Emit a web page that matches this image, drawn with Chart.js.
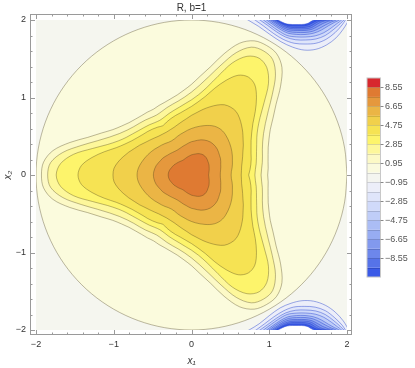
<!DOCTYPE html>
<html>
<head>
<meta charset="utf-8">
<script src="https://cdn.jsdelivr.net/npm/chart.js@4.4.1/dist/chart.umd.min.js"></script>
<style>
  html, body { margin: 0; padding: 0; background: #fff; }
</style>
</head>
<body>
<canvas id="chart" width="415" height="368"></canvas>
<script>
// contour levels inside the disc, and the colour of the band just above each one
var warmLevels = [0, 0.95, 1.9, 2.85, 3.8, 4.75, 5.7, 6.65, 7.6];
var warmFills = ['#fbfbdd', '#fcf9c6', '#fdf79b', '#fdf46b', '#f6e353', '#f1d04b', '#ebb545', '#e5983d', '#df7a32'];

// radius of each contour, going round from the +x1 axis
// (circle every 10 degrees, the others every 5 degrees)
var r0 = [2, 2, 2, 2, 2, 2, 2, 2, 2, 2, 2, 2, 2, 2, 2, 2, 2, 2,
          2, 2, 2, 2, 2, 2, 2, 2, 2, 2, 2, 2, 2, 2, 2, 2, 2, 2];
var r095 = [0.98, 0.99, 1.00, 1.02, 1.05, 1.10, 1.17, 1.28, 1.42, 1.62, 1.81, 1.91, 1.93,
            1.91, 1.81, 1.62, 1.42, 1.28, 1.17, 1.10, 1.05, 1.02, 1.00, 0.99, 0.98,
            0.99, 1.00, 1.02, 1.05, 1.10, 1.17, 1.28, 1.42, 1.62, 1.81, 1.91, 1.93,
            1.91, 1.81, 1.62, 1.42, 1.28, 1.17, 1.10, 1.05, 1.02, 1.00, 0.99, 0.98,
            0.99, 1.00, 1.02, 1.05, 1.10, 1.17, 1.28, 1.42, 1.62, 1.81, 1.91, 1.93,
            1.91, 1.81, 1.62, 1.42, 1.28, 1.17, 1.10, 1.05, 1.02, 1.00, 0.99];
var r19 = [0.895, 0.905, 0.925, 0.945, 0.97, 1.01, 1.07, 1.16, 1.29, 1.47, 1.68, 1.82, 1.85,
           1.82, 1.68, 1.47, 1.29, 1.16, 1.07, 1.01, 0.97, 0.945, 0.925, 0.905, 0.895,
           0.905, 0.925, 0.945, 0.97, 1.01, 1.07, 1.16, 1.29, 1.47, 1.68, 1.82, 1.85,
           1.82, 1.68, 1.47, 1.29, 1.16, 1.07, 1.01, 0.97, 0.945, 0.925, 0.905, 0.895,
           0.905, 0.925, 0.945, 0.97, 1.01, 1.07, 1.16, 1.29, 1.47, 1.68, 1.82, 1.85,
           1.82, 1.68, 1.47, 1.29, 1.16, 1.07, 1.01, 0.97, 0.945, 0.925, 0.905];
var r285 = [0.815, 0.825, 0.845, 0.865, 0.89, 0.925, 0.97, 1.04, 1.15, 1.32, 1.54, 1.69, 1.74,
            1.69, 1.54, 1.32, 1.15, 1.04, 0.97, 0.925, 0.89, 0.865, 0.845, 0.825, 0.815,
            0.825, 0.845, 0.865, 0.89, 0.925, 0.97, 1.04, 1.15, 1.32, 1.54, 1.69, 1.74,
            1.69, 1.54, 1.32, 1.15, 1.04, 0.97, 0.925, 0.89, 0.865, 0.845, 0.825, 0.815,
            0.825, 0.845, 0.865, 0.89, 0.925, 0.97, 1.04, 1.15, 1.32, 1.54, 1.69, 1.74,
            1.69, 1.54, 1.32, 1.15, 1.04, 0.97, 0.925, 0.89, 0.865, 0.845, 0.825];
var r38 = [0.735, 0.755, 0.775, 0.795, 0.815, 0.845, 0.885, 0.945, 1.03, 1.16, 1.30, 1.42, 1.46,
           1.42, 1.30, 1.16, 1.03, 0.945, 0.885, 0.845, 0.815, 0.795, 0.775, 0.755, 0.735,
           0.755, 0.775, 0.795, 0.815, 0.845, 0.885, 0.945, 1.03, 1.16, 1.30, 1.42, 1.46,
           1.42, 1.30, 1.16, 1.03, 0.945, 0.885, 0.845, 0.815, 0.795, 0.775, 0.755, 0.735,
           0.755, 0.775, 0.795, 0.815, 0.845, 0.885, 0.945, 1.03, 1.16, 1.30, 1.42, 1.46,
           1.42, 1.30, 1.16, 1.03, 0.945, 0.885, 0.845, 0.815, 0.795, 0.775, 0.755];
var r475 = [0.64, 0.645, 0.655, 0.675, 0.70, 0.73, 0.77, 0.81, 0.86, 0.91, 0.96, 1.00, 1.01,
            1.00, 0.96, 0.91, 0.86, 0.81, 0.77, 0.73, 0.70, 0.675, 0.655, 0.645, 0.64,
            0.645, 0.655, 0.675, 0.70, 0.73, 0.77, 0.81, 0.86, 0.91, 0.96, 1.00, 1.01,
            1.00, 0.96, 0.91, 0.86, 0.81, 0.77, 0.73, 0.70, 0.675, 0.655, 0.645, 0.64,
            0.645, 0.655, 0.675, 0.70, 0.73, 0.77, 0.81, 0.86, 0.91, 0.96, 1.00, 1.01,
            1.00, 0.96, 0.91, 0.86, 0.81, 0.77, 0.73, 0.70, 0.675, 0.655, 0.645];
var r57 = [0.51, 0.515, 0.53, 0.545, 0.56, 0.58, 0.60, 0.62, 0.64, 0.66, 0.68, 0.695, 0.70,
           0.695, 0.68, 0.66, 0.64, 0.62, 0.60, 0.58, 0.56, 0.545, 0.53, 0.515, 0.51,
           0.515, 0.53, 0.545, 0.56, 0.58, 0.60, 0.62, 0.64, 0.66, 0.68, 0.695, 0.70,
           0.695, 0.68, 0.66, 0.64, 0.62, 0.60, 0.58, 0.56, 0.545, 0.53, 0.515, 0.51,
           0.515, 0.53, 0.545, 0.56, 0.58, 0.60, 0.62, 0.64, 0.66, 0.68, 0.695, 0.70,
           0.695, 0.68, 0.66, 0.64, 0.62, 0.60, 0.58, 0.56, 0.545, 0.53, 0.515];
var r665 = [0.37, 0.373, 0.38, 0.39, 0.40, 0.415, 0.43, 0.44, 0.455, 0.47, 0.48, 0.487, 0.49,
            0.487, 0.48, 0.47, 0.455, 0.44, 0.43, 0.415, 0.40, 0.39, 0.38, 0.373, 0.37,
            0.373, 0.38, 0.39, 0.40, 0.415, 0.43, 0.44, 0.455, 0.47, 0.48, 0.487, 0.49,
            0.487, 0.48, 0.47, 0.455, 0.44, 0.43, 0.415, 0.40, 0.39, 0.38, 0.373, 0.37,
            0.373, 0.38, 0.39, 0.40, 0.415, 0.43, 0.44, 0.455, 0.47, 0.48, 0.487, 0.49,
            0.487, 0.48, 0.47, 0.455, 0.44, 0.43, 0.415, 0.40, 0.39, 0.38, 0.373];
var r76 = [0.22, 0.223, 0.228, 0.235, 0.242, 0.25, 0.26, 0.267, 0.275, 0.285, 0.293, 0.298, 0.30,
           0.298, 0.293, 0.285, 0.275, 0.267, 0.26, 0.25, 0.242, 0.235, 0.228, 0.223, 0.22,
           0.223, 0.228, 0.235, 0.242, 0.25, 0.26, 0.267, 0.275, 0.285, 0.293, 0.298, 0.30,
           0.298, 0.293, 0.285, 0.275, 0.267, 0.26, 0.25, 0.242, 0.235, 0.228, 0.223, 0.22,
           0.223, 0.228, 0.235, 0.242, 0.25, 0.26, 0.267, 0.275, 0.285, 0.293, 0.298, 0.30,
           0.298, 0.293, 0.285, 0.275, 0.267, 0.26, 0.25, 0.242, 0.235, 0.228, 0.223];
var warmRadii = [r0, r095, r19, r285, r38, r475, r57, r665, r76];

// negative contours near the top and bottom edges, as [x1, x2] points
var blueLevels = [-0.95, -1.9, -2.85, -3.8, -4.75, -5.7, -6.65, -7.6, -8.55, -9.5, -10.45];
var blueFills = ['#eceef9', '#dfe5fa', '#d0dafa', '#bfcdf8', '#abbdf5', '#97acf2', '#8299ee', '#6d87eb', '#5673e8', '#3a5ae7', '#ffffff'];

var top095 = [[0.66,2.04],[0.727,2.0],[0.86,1.92],[1.0,1.82],[1.15,1.72],[1.3,1.65],[1.45,1.612],[1.6,1.622],[1.74,1.68],[1.86,1.77],[1.95,1.88],[2.0,1.96],[2.04,2.04],[2.04,2.5],[0.66,2.5],[0.66,2.04]];
var top19 = [[0.76,2.04],[0.817,2.0],[0.93,1.92],[1.05,1.83],[1.18,1.75],[1.32,1.70],[1.46,1.69],[1.6,1.70],[1.73,1.75],[1.85,1.84],[1.94,1.94],[1.98,2.0],[2.02,2.05],[2.02,2.5],[0.76,2.5],[0.76,2.04]];
var top285 = [[0.82,2.04],[0.881,2.0],[0.98,1.93],[1.09,1.85],[1.21,1.78],[1.34,1.745],[1.47,1.742],[1.6,1.755],[1.72,1.80],[1.83,1.88],[1.91,1.95],[1.96,2.0],[2.0,2.05],[2.0,2.5],[0.82,2.5],[0.82,2.04]];
var top38 = [[0.87,2.04],[0.926,2.0],[1.02,1.93],[1.12,1.86],[1.23,1.80],[1.35,1.782],[1.47,1.781],[1.59,1.795],[1.7,1.835],[1.8,1.90],[1.88,1.96],[1.93,2.0],[1.97,2.05],[1.97,2.5],[0.87,2.5],[0.87,2.04]];
var top475 = [[0.91,2.04],[0.965,2.0],[1.05,1.94],[1.14,1.88],[1.24,1.83],[1.35,1.814],[1.46,1.813],[1.57,1.83],[1.67,1.87],[1.76,1.925],[1.84,1.97],[1.9,2.0],[1.94,2.05],[1.94,2.5],[0.91,2.5],[0.91,2.04]];
var top57 = [[0.94,2.04],[0.997,2.0],[1.08,1.94],[1.16,1.89],[1.25,1.85],[1.35,1.84],[1.46,1.839],[1.56,1.855],[1.65,1.895],[1.73,1.94],[1.8,1.975],[1.86,2.0],[1.9,2.05],[1.9,2.5],[0.94,2.5],[0.94,2.04]];
var top665 = [[0.97,2.04],[1.023,2.0],[1.1,1.95],[1.18,1.90],[1.26,1.87],[1.36,1.865],[1.46,1.865],[1.55,1.88],[1.62,1.915],[1.69,1.955],[1.76,1.983],[1.82,2.0],[1.86,2.05],[1.86,2.5],[0.97,2.5],[0.97,2.04]];
var top76 = [[0.99,2.04],[1.048,2.0],[1.12,1.955],[1.19,1.915],[1.27,1.89],[1.36,1.884],[1.46,1.885],[1.54,1.90],[1.6,1.935],[1.66,1.97],[1.72,1.99],[1.78,2.0],[1.82,2.05],[1.82,2.5],[0.99,2.5],[0.99,2.04]];
var top855 = [[1.02,2.04],[1.074,2.0],[1.14,1.96],[1.21,1.925],[1.28,1.905],[1.37,1.903],[1.46,1.905],[1.53,1.92],[1.58,1.95],[1.63,1.978],[1.68,1.993],[1.73,2.0],[1.77,2.05],[1.77,2.5],[1.02,2.5],[1.02,2.04]];
var top95 = [[1.04,2.04],[1.093,2.0],[1.15,1.965],[1.22,1.935],[1.29,1.924],[1.37,1.923],[1.45,1.925],[1.51,1.94],[1.56,1.965],[1.6,1.985],[1.64,1.996],[1.67,2.0],[1.71,2.05],[1.71,2.5],[1.04,2.5],[1.04,2.04]];
var top1045 = [[1.06,2.04],[1.113,2.0],[1.17,1.97],[1.23,1.948],[1.3,1.942],[1.38,1.942],[1.45,1.945],[1.5,1.958],[1.53,1.978],[1.56,1.993],[1.58,2.0],[1.61,2.05],[1.61,2.5],[1.06,2.5],[1.06,2.04]];

var bot095 = [[0.66,-2.04],[0.74,-2.0],[0.87,-1.92],[1.0,-1.815],[1.14,-1.715],[1.28,-1.655],[1.42,-1.622],[1.57,-1.628],[1.72,-1.68],[1.85,-1.77],[1.95,-1.88],[2.0,-1.96],[2.04,-2.04],[2.04,-2.5],[0.66,-2.5],[0.66,-2.04]];
var bot19 = [[0.77,-2.04],[0.83,-2.0],[0.94,-1.92],[1.06,-1.83],[1.18,-1.755],[1.31,-1.705],[1.45,-1.695],[1.59,-1.705],[1.72,-1.75],[1.84,-1.84],[1.94,-1.94],[1.98,-2.0],[2.02,-2.05],[2.02,-2.5],[0.77,-2.5],[0.77,-2.04]];
var bot285 = [[0.82,-2.04],[0.881,-2.0],[0.98,-1.93],[1.09,-1.85],[1.21,-1.78],[1.34,-1.745],[1.47,-1.742],[1.6,-1.755],[1.72,-1.8],[1.83,-1.88],[1.91,-1.95],[1.96,-2.0],[2.0,-2.05],[2.0,-2.5],[0.82,-2.5],[0.82,-2.04]];
var bot38 = [[0.87,-2.04],[0.926,-2.0],[1.02,-1.93],[1.12,-1.86],[1.23,-1.8],[1.35,-1.782],[1.47,-1.781],[1.59,-1.795],[1.7,-1.835],[1.8,-1.9],[1.88,-1.96],[1.93,-2.0],[1.97,-2.05],[1.97,-2.5],[0.87,-2.5],[0.87,-2.04]];
var bot475 = [[0.91,-2.04],[0.965,-2.0],[1.05,-1.94],[1.14,-1.88],[1.24,-1.83],[1.35,-1.814],[1.46,-1.813],[1.57,-1.83],[1.67,-1.87],[1.76,-1.925],[1.84,-1.97],[1.9,-2.0],[1.94,-2.05],[1.94,-2.5],[0.91,-2.5],[0.91,-2.04]];
var bot57 = [[0.94,-2.04],[0.997,-2.0],[1.08,-1.94],[1.16,-1.89],[1.25,-1.85],[1.35,-1.84],[1.46,-1.839],[1.56,-1.855],[1.65,-1.895],[1.73,-1.94],[1.8,-1.975],[1.86,-2.0],[1.9,-2.05],[1.9,-2.5],[0.94,-2.5],[0.94,-2.04]];
var bot665 = [[0.97,-2.04],[1.023,-2.0],[1.1,-1.95],[1.18,-1.9],[1.26,-1.87],[1.36,-1.865],[1.46,-1.865],[1.55,-1.88],[1.62,-1.915],[1.69,-1.955],[1.76,-1.983],[1.82,-2.0],[1.86,-2.05],[1.86,-2.5],[0.97,-2.5],[0.97,-2.04]];
var bot76 = [[0.99,-2.04],[1.048,-2.0],[1.12,-1.955],[1.19,-1.915],[1.27,-1.89],[1.36,-1.884],[1.46,-1.885],[1.54,-1.9],[1.6,-1.935],[1.66,-1.97],[1.72,-1.99],[1.78,-2.0],[1.82,-2.05],[1.82,-2.5],[0.99,-2.5],[0.99,-2.04]];
var bot855 = [[1.02,-2.04],[1.074,-2.0],[1.14,-1.96],[1.21,-1.925],[1.28,-1.905],[1.37,-1.903],[1.46,-1.905],[1.53,-1.92],[1.58,-1.95],[1.63,-1.978],[1.68,-1.993],[1.73,-2.0],[1.77,-2.05],[1.77,-2.5],[1.02,-2.5],[1.02,-2.04]];
var bot95 = [[1.04,-2.04],[1.093,-2.0],[1.15,-1.965],[1.22,-1.935],[1.29,-1.924],[1.37,-1.923],[1.45,-1.925],[1.51,-1.94],[1.56,-1.965],[1.6,-1.985],[1.64,-1.996],[1.67,-2.0],[1.71,-2.05],[1.71,-2.5],[1.04,-2.5],[1.04,-2.04]];
var bot1045 = [[1.06,-2.04],[1.113,-2.0],[1.17,-1.97],[1.23,-1.948],[1.3,-1.942],[1.38,-1.942],[1.45,-1.945],[1.5,-1.958],[1.53,-1.978],[1.56,-1.993],[1.58,-2.0],[1.61,-2.05],[1.61,-2.5],[1.06,-2.5],[1.06,-2.04]];

var topCurves = [top095, top19, top285, top38, top475, top57, top665, top76, top855, top95, top1045];
var botCurves = [bot095, bot19, bot285, bot38, bot475, bot57, bot665, bot76, bot855, bot95, bot1045];

// colour bar
var cbEdges = [9.5, 8.55, 7.6, 6.65, 5.7, 4.75, 3.8, 2.85, 1.9, 0.95, 0, -0.95, -1.9, -2.85, -3.8, -4.75, -5.7, -6.65, -7.6, -8.55, -9.5, -10.45];
var cbColors = ['#d7282e', '#df7a32', '#e5983d', '#ebb545', '#f1d04b', '#f6e353', '#fdf46b', '#fdf79b', '#fcf9c6', '#fafade', '#f4f5f0',
                '#eceef9', '#dfe5fa', '#d0dafa', '#bfcdf8', '#abbdf5', '#97acf2', '#8299ee', '#6d87eb', '#5673e8', '#3a5ae7'];
var cbTicks = [8.55, 6.65, 4.75, 2.85, 0.95, -0.95, -2.85, -4.75, -6.65, -8.55];
var axisTicks = [-2, -1, 0, 1, 2];

var FONT = "'Liberation Sans', Arial, sans-serif";
var warmLine = 'rgba(70, 60, 25, 0.45)';
var blueLine = 'rgba(30, 60, 205, 0.55)';

function polar(rs) {
    var pts = rs.map(function (r, i) {
        var a = i * 2 * Math.PI / rs.length;
        return { x: r * Math.cos(a), y: r * Math.sin(a) };
    });
    pts.push(pts[0]);
    return pts;
}

function xy(list) {
    return list.map(function (p) { return { x: p[0], y: p[1] }; });
}

function contour(label, data, fillColor, lineColor, order) {
    return {
        label: label,
        data: data,
        showLine: true,
        fill: 'shape',
        backgroundColor: fillColor,
        borderColor: lineColor,
        borderWidth: 0.8,
        pointRadius: 0,
        tension: 0.33,
        order: order
    };
}

function minus(v) {
    return (v < 0 ? '\u2212' : '') + Math.abs(v);
}

// vertical axes otherwise reserve room above and below for their tick padding
function noPad(s) {
    s.paddingTop = 0;
    s.paddingBottom = 0;
}

var datasets = [];
warmLevels.forEach(function (lv, i) {
    datasets.push(contour('R = ' + lv, polar(warmRadii[i]), warmFills[i], warmLine, 100 - i));
});
blueLevels.forEach(function (lv, j) {
    datasets.push(contour('R = ' + lv, xy(topCurves[j]), blueFills[j], blueLine, 60 - j));
    datasets.push(contour('R = ' + lv, xy(botCurves[j]), blueFills[j], blueLine, 60 - j));
});

var framePlugin = {
    id: 'frame',
    beforeDatasetsDraw: function (chart) {
        var a = chart.chartArea, ctx = chart.ctx;
        ctx.save();
        ctx.fillStyle = '#f5f6ef';
        ctx.fillRect(a.left, a.top, a.right - a.left, a.bottom - a.top);
        ctx.restore();
    },
    afterDraw: function (chart) {
        var a = chart.chartArea, ctx = chart.ctx;
        var xs = chart.scales.x, ys = chart.scales.y, cb = chart.scales.cb;
        var L = a.left - 6, R = a.right + 5, T = a.top - 6, B = a.bottom + 5;
        ctx.save();
        ctx.strokeStyle = '#9a9a9a';
        ctx.lineWidth = 1;
        ctx.strokeRect(L + 0.5, T + 0.5, R - L - 1, B - T - 1);
        ctx.beginPath();
        for (var k = -10; k <= 10; k++) {
            var v = k / 5;
            var len = (k % 5 === 0) ? 5 : 2.5;
            var px = Math.round(xs.getPixelForValue(v)) + 0.5;
            ctx.moveTo(px, T); ctx.lineTo(px, T + len);
            ctx.moveTo(px, B); ctx.lineTo(px, B - len);
            var py = Math.round(ys.getPixelForValue(v)) + 0.5;
            ctx.moveTo(L, py); ctx.lineTo(L + len, py);
            ctx.moveTo(R, py); ctx.lineTo(R - len, py);
        }
        ctx.stroke();

        // colour bar
        var x0 = cb.left + 20, x1 = cb.left + 33.5;
        for (var i = 0; i < cbColors.length; i++) {
            var y0 = cb.getPixelForValue(cbEdges[i]);
            var y1 = cb.getPixelForValue(cbEdges[i + 1]);
            ctx.fillStyle = cbColors[i];
            ctx.fillRect(x0, y0, x1 - x0, y1 - y0);
        }
        ctx.strokeStyle = 'rgba(0, 0, 0, 0.14)';
        ctx.beginPath();
        for (var j = 1; j < cbEdges.length - 1; j++) {
            var yy = Math.round(cb.getPixelForValue(cbEdges[j])) + 0.5;
            ctx.moveTo(x0, yy); ctx.lineTo(x1, yy);
        }
        ctx.stroke();
        ctx.strokeStyle = '#c8c8c8';
        ctx.strokeRect(x0, cb.getPixelForValue(cbEdges[0]), x1 - x0,
            cb.getPixelForValue(cbEdges[cbEdges.length - 1]) - cb.getPixelForValue(cbEdges[0]));
        ctx.strokeStyle = '#888';
        ctx.beginPath();
        cbTicks.forEach(function (t) {
            var ty = Math.round(cb.getPixelForValue(t)) + 0.5;
            ctx.moveTo(x1, ty); ctx.lineTo(x1 + 3, ty);
        });
        ctx.stroke();
        ctx.restore();
    }
};

var ctx = document.getElementById('chart').getContext('2d');
new Chart(ctx, {
    type: 'scatter',
    data: { datasets: datasets },
    options: {
        responsive: false,
        animation: false,
        events: [],
        devicePixelRatio: 1,
        layout: { padding: 0 },
        plugins: {
            legend: { display: false },
            tooltip: { enabled: false },
            title: {
                display: true,
                text: 'R, b=1',
                fullSize: false,
                color: '#333',
                font: { family: FONT, size: 10, weight: 'normal' },
                padding: { top: 2, bottom: 6 }
            }
        },
        scales: {
            x: {
                type: 'linear', min: -2, max: 2,
                afterBuildTicks: function (s) { s.ticks = axisTicks.map(function (v) { return { value: v }; }); },
                afterFit: function (s) { s.height = 38; s.paddingLeft = 0; s.paddingRight = 0; },
                grid: { display: false, drawTicks: false },
                border: { display: false },
                ticks: { padding: 9, color: '#333', font: { family: FONT, size: 9 }, callback: minus },
                title: { display: true, text: 'x\u2081', color: '#333', font: { family: FONT, size: 10, style: 'italic' }, padding: { top: 0, bottom: 1 } }
            },
            y: {
                type: 'linear', position: 'left', min: -2, max: 2,
                afterBuildTicks: function (s) { s.ticks = axisTicks.map(function (v) { return { value: v }; }); },
                afterFit: function (s) { s.width = 36; noPad(s); },
                grid: { display: false, drawTicks: false },
                border: { display: false },
                ticks: { padding: 10, color: '#333', font: { family: FONT, size: 9 }, callback: minus },
                title: { display: true, text: 'x\u2082', color: '#333', font: { family: FONT, size: 10, style: 'italic' }, padding: { top: 2, bottom: 0 } }
            },
            cb: {
                type: 'linear', position: 'right', min: -15.76, max: 15.31,
                afterBuildTicks: function (s) { s.ticks = cbTicks.map(function (v) { return { value: v }; }); },
                afterFit: function (s) { s.width = 68; noPad(s); },
                grid: { display: false, drawTicks: false },
                border: { display: false },
                ticks: {
                    padding: 38, color: '#555', font: { family: FONT, size: 9 },
                    callback: function (v) { return (v < 0 ? '\u2212' : '') + Math.abs(v).toFixed(2); }
                }
            }
        }
    },
    plugins: [framePlugin]
});
</script>
</body>
</html>
